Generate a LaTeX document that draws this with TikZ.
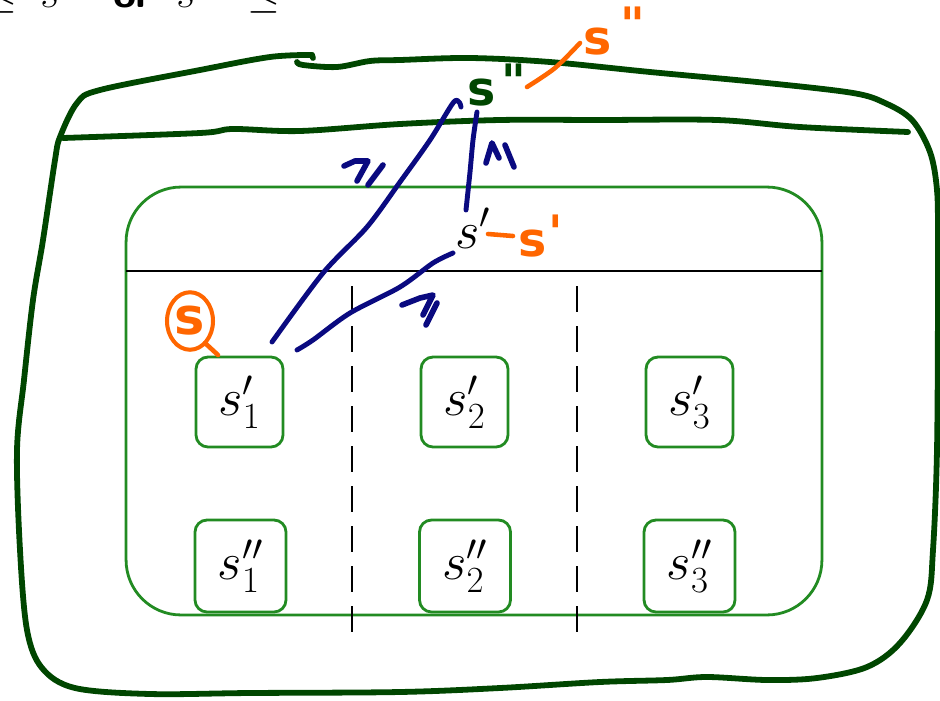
\RequirePackage{fix-cm}
\documentclass[tikz,border=0pt]{standalone}
\usepackage{fontspec}
\newfontfamily\handfont{DejaVu Sans}
\usetikzlibrary{shapes.geometric}
\definecolor{dkgreen}{RGB}{0,70,0}
\definecolor{boxgreen}{RGB}{34,139,34}
\definecolor{navyb}{RGB}{10,10,128}
\definecolor{orng}{RGB}{255,102,0}
\newcommand{\handtxt}{\handfont\bfseries\fontsize{27}{30}\selectfont}
\newcommand{\mathbig}{\fontsize{30}{36}\selectfont}
\newcommand{\toptxt}{\fontsize{24}{28}\selectfont}
\begin{document}
\begin{tikzpicture}[x=0.02cm,y=-0.02cm,
  handline/.style={dkgreen,line width=3.3pt,line cap=round,line join=round},
  bluel/.style={navyb,line width=2.8pt,line cap=round,line join=round},
  bluemark/.style={navyb,line width=3.2pt,line cap=round,line join=round},
  orl/.style={orng,line width=2.6pt,line cap=round,line join=round},
  smallbox/.style={draw=boxgreen,line width=1.6pt,rounded corners=0.24cm,
    minimum width=1.74cm,minimum height=1.8cm,inner sep=0pt,font=\mathbig},
  smallboxb/.style={smallbox,minimum width=1.82cm,minimum height=1.84cm},
  sepline/.style={black,line width=1.5pt,dash pattern=on 14.8pt off 8pt},
]
\useasboundingbox (0,0) rectangle (940,700);
\clip (0,0) rectangle (940,700);

% top (cut-off) text
\node[anchor=base east,font=\toptxt,inner sep=0pt] (t1) at (18,7) {$\leq$};
\node[anchor=base west,font=\toptxt,inner sep=0pt] (t2) at (40,7) {$s'$};
\node[anchor=base west,font=\toptxt\sffamily\bfseries,inner sep=0pt] (t3) at (113,7) {or};
\node[anchor=base west,font=\toptxt,inner sep=0pt] (t4) at (176,7) {$s''$};
\node[anchor=base west,font=\toptxt,inner sep=0pt] (t5) at (247,7) {$\leq$};

% outer hand-drawn shape
\draw[handline] plot[smooth,tension=0.55] coordinates {
  (312,55) (270,57) (200,70) (100,90) (77,103) (60,137) (55,160) (43,240)
  (33,300) (24,380) (17,450) (20,550) (27,630) (42,668) (75,688) (150,694)
  (250,693) (400,692) (500,688) (600,682) (667,680) (707,677) (767,680) (817,678)
  (867,667) (900,643) (927,600) (933,550) (937,450) (938,300) (938,240)
  (937,190) (930,152) (912,120) (885,103) (853,93) (767,83) (650,72)
  (550,62) (470,58) (400,60) (370,61) (337,67) (303,65) (297,62)};
\draw[handline] (312,55) -- (313,58);
\draw[handline] plot[smooth,tension=0.55] coordinates {
  (63,138) (200,133) (233,129) (300,131) (400,124) (500,120) (600,120)
  (717,120) (800,127) (908,132)};

% inner box
\node[draw=boxgreen,line width=1.6pt,rounded corners=1.1cm,minimum width=13.92cm,
  minimum height=8.56cm,inner sep=0pt] (big) at (474,401) {};
\coordinate (hl) at (126,271);
\coordinate (hr) at (822,271);
\draw[line width=1.5pt] (hl) -- (hr);
\coordinate (d1t) at (352,286);
\coordinate (d1b) at (352,643);
\coordinate (d2t) at (577,286);
\coordinate (d2b) at (577,643);
\draw[sepline] (d1t) -- (d1b);
\draw[sepline] (d2t) -- (d2b);

\node[smallbox] (b11) at (239.5,402) {$s'_1$};
\node[smallbox] (b21) at (464.5,402) {$s'_2$};
\node[smallbox] (b31) at (689.5,402) {$s'_3$};
\node[smallboxb] (b12) at (240.5,566) {$s''_1$};
\node[smallboxb] (b22) at (465,566) {$s''_2$};
\node[smallboxb] (b32) at (689.5,566) {$s''_3$};

\node[anchor=base west,font=\mathbig,inner sep=0pt] (sp) at (455,248) {$s'$};

% handwritten labels
\node[text=dkgreen,font=\handtxt,inner sep=0pt] (gs) at (497,85) {s\hspace{3pt}\raisebox{4pt}{"}};
\node[text=orng,font=\handtxt,inner sep=0pt] (os) at (614,31) {s\hspace{5pt}\raisebox{7pt}{"}};
\node[text=orng,font=\handtxt,inner sep=0pt] (osp) at (541,236) {s\hspace{1pt}\raisebox{4pt}{'}};
\node[text=orng,font=\handfont\bfseries\fontsize{29}{32}\selectfont,draw=orng,line width=2.3pt,ellipse,
  minimum width=0.92cm,minimum height=1.15cm,inner sep=0pt] (circ) at (190,321) {s};

% orange connectors
\coordinate (o1a) at (527,87);
\coordinate (o1b) at (580,43);
\draw[orl] plot[smooth] coordinates {(o1a) (555,68) (o1b)};
\coordinate (o2a) at (488,234);
\coordinate (o2b) at (513,236);
\draw[orl] (o2a) -- (o2b);
\coordinate (o3a) at (205,343);
\coordinate (o3b) at (218,355);
\draw[orl] (o3a) -- (o3b);

% blue connectors
\coordinate (l1s) at (272,342);
\coordinate (l1e) at (461,107);
\draw[bluel] plot[smooth,tension=0.5] coordinates {(l1s) (323,273) (367,227) (400,182) (430,140) (453,103) (459,102) (l1e)};
\coordinate (l2s) at (466,210);
\coordinate (l2e) at (477,112);
\draw[bluel] plot[smooth,tension=0.5] coordinates {(l2s) (470,172) (473,140) (l2e)};
\coordinate (l3s) at (297,350);
\coordinate (l3e) at (453,253);
\draw[bluel] plot[smooth,tension=0.5] coordinates {(l3s) (313,340) (350,313) (400,287) (433,263) (l3e)};

% geq marks
\draw[bluemark] (344,166) -- (355,161) -- (368,161) -- (357,181);
\draw[bluemark] (383,165) -- (368,185);
\draw[bluemark] (486,163) -- (492,143) -- (499,158);
\draw[bluemark] (505,145) -- (514,167);
\draw[bluemark] (402,305) -- (420,298) -- (433,295) -- (423,315);
\draw[bluemark] (437,303) -- (426,325);
\end{tikzpicture}
\end{document}
